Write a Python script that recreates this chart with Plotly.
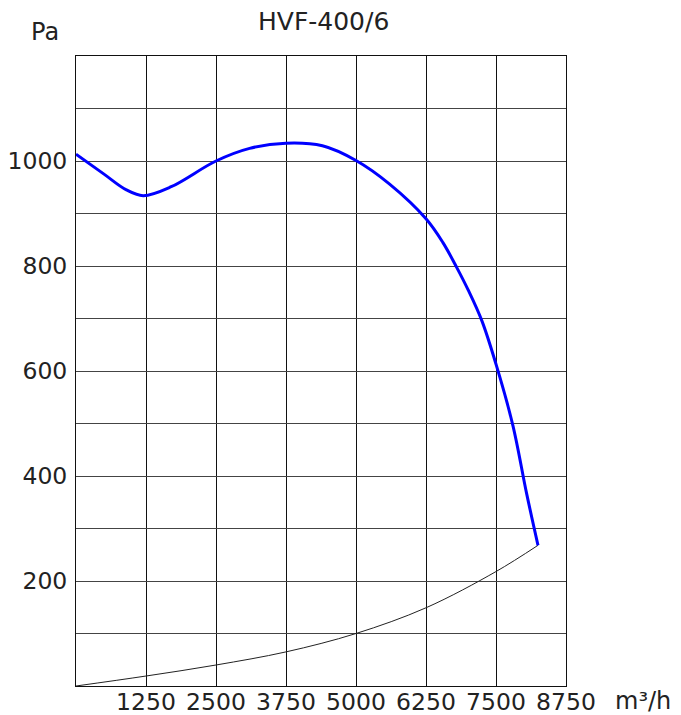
import plotly.graph_objects as go

# Fan curve (blue): airflow m³/h vs static pressure Pa
fan_q = [0, 500, 900, 1200, 1700, 2500, 3100, 3750, 4400, 5000, 5600,
         6250, 6550, 6800, 7000, 7250, 7500, 7800, 8050, 8250]
fan_p = [1013, 975, 945, 934, 951, 1000, 1024, 1034, 1029, 1001, 956,
         890, 845, 797, 755, 695, 613, 497, 365, 268]

# System curve (black)
sys_q = [0, 1250, 2500, 3750, 5000, 6250, 7500, 8250]
sys_p = [0, 19, 40, 65, 100, 149, 218, 268]

x_ticks = [1250, 2500, 3750, 5000, 6250, 7500, 8750]
y_grid = [100, 200, 300, 400, 500, 600, 700, 800, 900, 1000, 1100]
y_labels = ["", "200", "", "400", "", "600", "", "800", "", "1000", ""]

FONT = "DejaVu Sans"
TXT = "#222222"

fig = go.Figure()
fig.add_trace(go.Scatter(x=sys_q, y=sys_p, mode="lines",
                         line=dict(color="#222222", width=1, shape="spline"),
                         hoverinfo="skip", showlegend=False))
fig.add_trace(go.Scatter(x=fan_q, y=fan_p, mode="lines",
                         line=dict(color="#0000ff", width=3, shape="spline",
                                   smoothing=1.0),
                         showlegend=False))

fig.update_layout(
    width=681, height=715,
    margin=dict(l=68, r=123, t=48, b=37, autoexpand=False),
    paper_bgcolor="white", plot_bgcolor="white",
    font=dict(family=FONT, size=23, color=TXT),
    showlegend=False,
    xaxis=dict(range=[0, 8750], tickvals=x_ticks, ticktext=[str(v) for v in x_ticks],
               showgrid=True, gridcolor="#111111", gridwidth=1,
               showline=True, linecolor="#111111", linewidth=1, mirror=True,
               ticks="", zeroline=False, ticklabelstandoff=-5, automargin=False,
               tickfont=dict(family=FONT, size=23.5, color=TXT)),
    yaxis=dict(range=[0, 1200], tickvals=y_grid, ticktext=y_labels,
               showgrid=True, gridcolor="#444444", gridwidth=1,
               showline=True, linecolor="#111111", linewidth=1, mirror=True,
               ticks="", zeroline=False, ticklabelstandoff=3, automargin=False,
               tickfont=dict(family=FONT, size=23.5, color=TXT)),
    annotations=[
        dict(text="HVF-400/6", xref="paper", yref="paper", x=0.506, y=1.054,
             xanchor="center", yanchor="middle", showarrow=False,
             font=dict(family=FONT, size=25, color=TXT)),
        dict(text="Pa", xref="paper", yref="paper", x=-0.063, y=1.038,
             xanchor="center", yanchor="middle", showarrow=False,
             font=dict(family=FONT, size=24, color=TXT)),
        dict(text="m³/h", xref="paper", yref="paper", x=1.157, y=-0.024,
             xanchor="center", yanchor="middle", showarrow=False,
             font=dict(family=FONT, size=24, color=TXT)),
    ],
)

fig.write_html("out.html")
